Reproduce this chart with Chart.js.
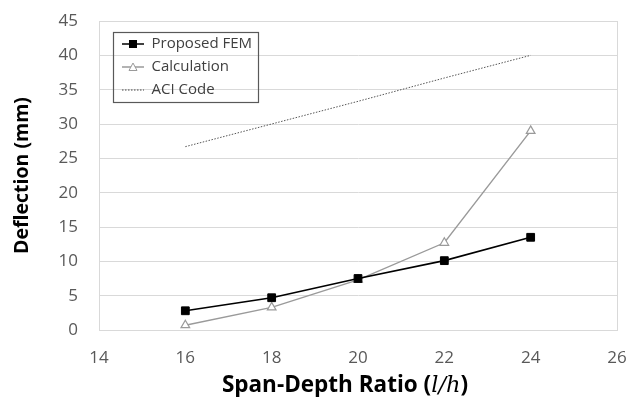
<!DOCTYPE html>
<html>
<head>
<meta charset="utf-8">
<script src="https://cdn.jsdelivr.net/npm/chart.js@4/dist/chart.umd.min.js"></script>
<style>
  html, body { margin: 0; padding: 0; background: #fff; }
  #wrap { width: 632px; height: 397px; position: relative; }
</style>
</head>
<body>
<div id="wrap"><canvas id="chart"></canvas></div>
<script>
const spanDepth = [16, 18, 20, 22, 24];
const femValues = [2.8, 4.7, 7.5, 10.1, 13.5];
const calcValues = [0.7, 3.3, 7.3, 12.7, 29.0];
const aciValues = [26.7, 30.0, 33.3, 36.7, 40.0];
const xTicks = [14, 16, 18, 20, 22, 24, 26];
const yTicks = [0, 5, 10, 15, 20, 25, 30, 35, 40, 45];

function toPoints(vals) {
  return spanDepth.map((x, i) => ({ x: x, y: vals[i] }));
}

// little legend glyphs: line with marker in the middle
function legendGlyph(kind) {
  const c = document.createElement("canvas");
  c.width = 22;
  c.height = 10;
  const g = c.getContext("2d");
  g.beginPath();
  if (kind === "dot") {
    g.setLineDash([1.5, 1.5]);
    g.strokeStyle = "#444";
    g.lineWidth = 1;
  } else {
    g.strokeStyle = kind === "square" ? "#000" : "#9a9a9a";
    g.lineWidth = 1.5;
  }
  g.moveTo(0, 5);
  g.lineTo(22, 5);
  g.stroke();
  g.setLineDash([]);
  if (kind === "square") {
    g.fillStyle = "#000";
    g.fillRect(7, 1, 8, 8);
  } else if (kind === "tri") {
    g.beginPath();
    g.moveTo(11, 1);
    g.lineTo(15, 8.5);
    g.lineTo(7, 8.5);
    g.closePath();
    g.fillStyle = "#fff";
    g.fill();
    g.strokeStyle = "#9a9a9a";
    g.lineWidth = 1;
    g.stroke();
  }
  return c;
}

const glyphs = [legendGlyph("square"), legendGlyph("tri"), legendGlyph("dot")];

const frame = {
  id: "frame",
  afterLayout(chart) {
    // move legend into the top-left corner of the plot
    const lg = chart.legend;
    const a = chart.chartArea;
    const h = lg.height;
    lg.left = a.left + 15;
    lg.top = a.top + 7.5;
    lg.right = lg.left + lg.width;
    lg.bottom = lg.top + h;
  },
  beforeDatasetsDraw(chart) {
    const a = chart.chartArea;
    const ctx = chart.ctx;
    ctx.save();
    ctx.strokeStyle = "#d9d9d9";
    ctx.lineWidth = 1;
    ctx.strokeRect(a.left + 0.5, a.top + 0.5, a.right - a.left, a.bottom - a.top);
    ctx.restore();
  },
  afterDraw(chart) {
    const a = chart.chartArea;
    const lg = chart.legend;
    const ctx = chart.ctx;
    ctx.save();
    // legend border
    ctx.strokeStyle = "#595959";
    ctx.lineWidth = 1.2;
    ctx.strokeRect(Math.round(lg.left - 1) + 0.5, Math.round(lg.top + 3.5) + 0.5, 145, 70);

    // x axis title with italic l/h
    const parts = [
      { t: "Span-Depth Ratio (", f: "bold 22.5px 'Open Sans'" },
      { t: "l/h", f: "italic 22.5px 'DejaVu Serif'" },
      { t: ")", f: "bold 22.5px 'Open Sans'" }
    ];
    let total = 0;
    parts.forEach((p) => {
      ctx.font = p.f;
      p.w = ctx.measureText(p.t).width;
      total += p.w;
    });
    let x = 345 - total / 2;
    const y = a.bottom + 56;
    ctx.fillStyle = "#000";
    ctx.textBaseline = "middle";
    ctx.textAlign = "left";
    parts.forEach((p) => {
      ctx.font = p.f;
      ctx.fillText(p.t, x, y);
      x += p.w;
    });
    ctx.restore();
  }
};

new Chart(document.getElementById("chart"), {
  type: "line",
  data: {
    datasets: [
      {
        label: "Proposed FEM",
        data: toPoints(femValues),
        borderColor: "#000",
        backgroundColor: "#000",
        borderWidth: 1.6,
        pointStyle: "rect",
        pointRadius: 5.5,
        pointBorderWidth: 1,
        pointBackgroundColor: "#000",
        pointBorderColor: "#000",
        fill: false,
        order: 1
      },
      {
        label: "Calculation",
        data: toPoints(calcValues),
        borderColor: "#9a9a9a",
        borderWidth: 1.4,
        pointStyle: "triangle",
        pointRadius: 5,
        pointBorderWidth: 1.2,
        pointBackgroundColor: "#fff",
        pointBorderColor: "#9a9a9a",
        fill: false,
        order: 2
      },
      {
        label: "ACI Code",
        data: toPoints(aciValues),
        borderColor: "#555",
        borderWidth: 1,
        borderDash: [1.5, 1.5],
        pointRadius: 0,
        fill: false,
        order: 3
      }
    ]
  },
  options: {
    responsive: true,
    maintainAspectRatio: false,
    animation: false,
    layout: { padding: { left: 4, right: 15, top: 21, bottom: 0 } },
    plugins: {
      tooltip: { enabled: false },
      legend: {
        position: "chartArea",
        align: "start",
        labels: {
          usePointStyle: true,
          pointStyleWidth: 22,
          boxHeight: 13,
          padding: 8,
          color: "#404040",
          font: { family: "Open Sans", size: 15 },
          generateLabels(chart) {
            return chart.data.datasets.map((ds, i) => ({
              text: ds.label,
              pointStyle: glyphs[i],
              fontColor: "#404040",
              lineWidth: 0,
              strokeStyle: "transparent",
              fillStyle: "transparent",
              datasetIndex: i,
              hidden: false
            }));
          }
        }
      }
    },
    scales: {
      x: {
        type: "linear",
        min: 14,
        max: 26,
        afterBuildTicks(scale) {
          scale.ticks = xTicks.map((v) => ({ value: v }));
        },
        afterFit(scale) {
          scale.height = 67;
          scale.paddingLeft = 0;
          scale.paddingRight = 0;
        },
        grid: { display: false, drawTicks: false },
        border: { display: true, color: "#bfbfbf" },
        ticks: {
          padding: 18,
          color: "#595959",
          font: { family: "Open Sans", size: 17 }
        },
        title: { display: false }
      },
      y: {
        min: 0,
        max: 45,
        afterBuildTicks(scale) {
          scale.ticks = yTicks.map((v) => ({ value: v }));
        },
        afterFit(scale) {
          scale.width = 95;
          scale.paddingTop = 0;
          scale.paddingBottom = 0;
        },
        grid: { color: "#d9d9d9", drawTicks: false },
        border: { display: true, color: "#bfbfbf" },
        ticks: {
          padding: 21,
          color: "#595959",
          font: { family: "Open Sans", size: 17 }
        },
        title: {
          display: true,
          text: "Deflection (mm)",
          color: "#000",
          padding: { top: 7, bottom: 0 },
          font: { family: "Open Sans", size: 19.5, weight: "bold" }
        }
      }
    }
  },
  plugins: [frame]
});
</script>
</body>
</html>
